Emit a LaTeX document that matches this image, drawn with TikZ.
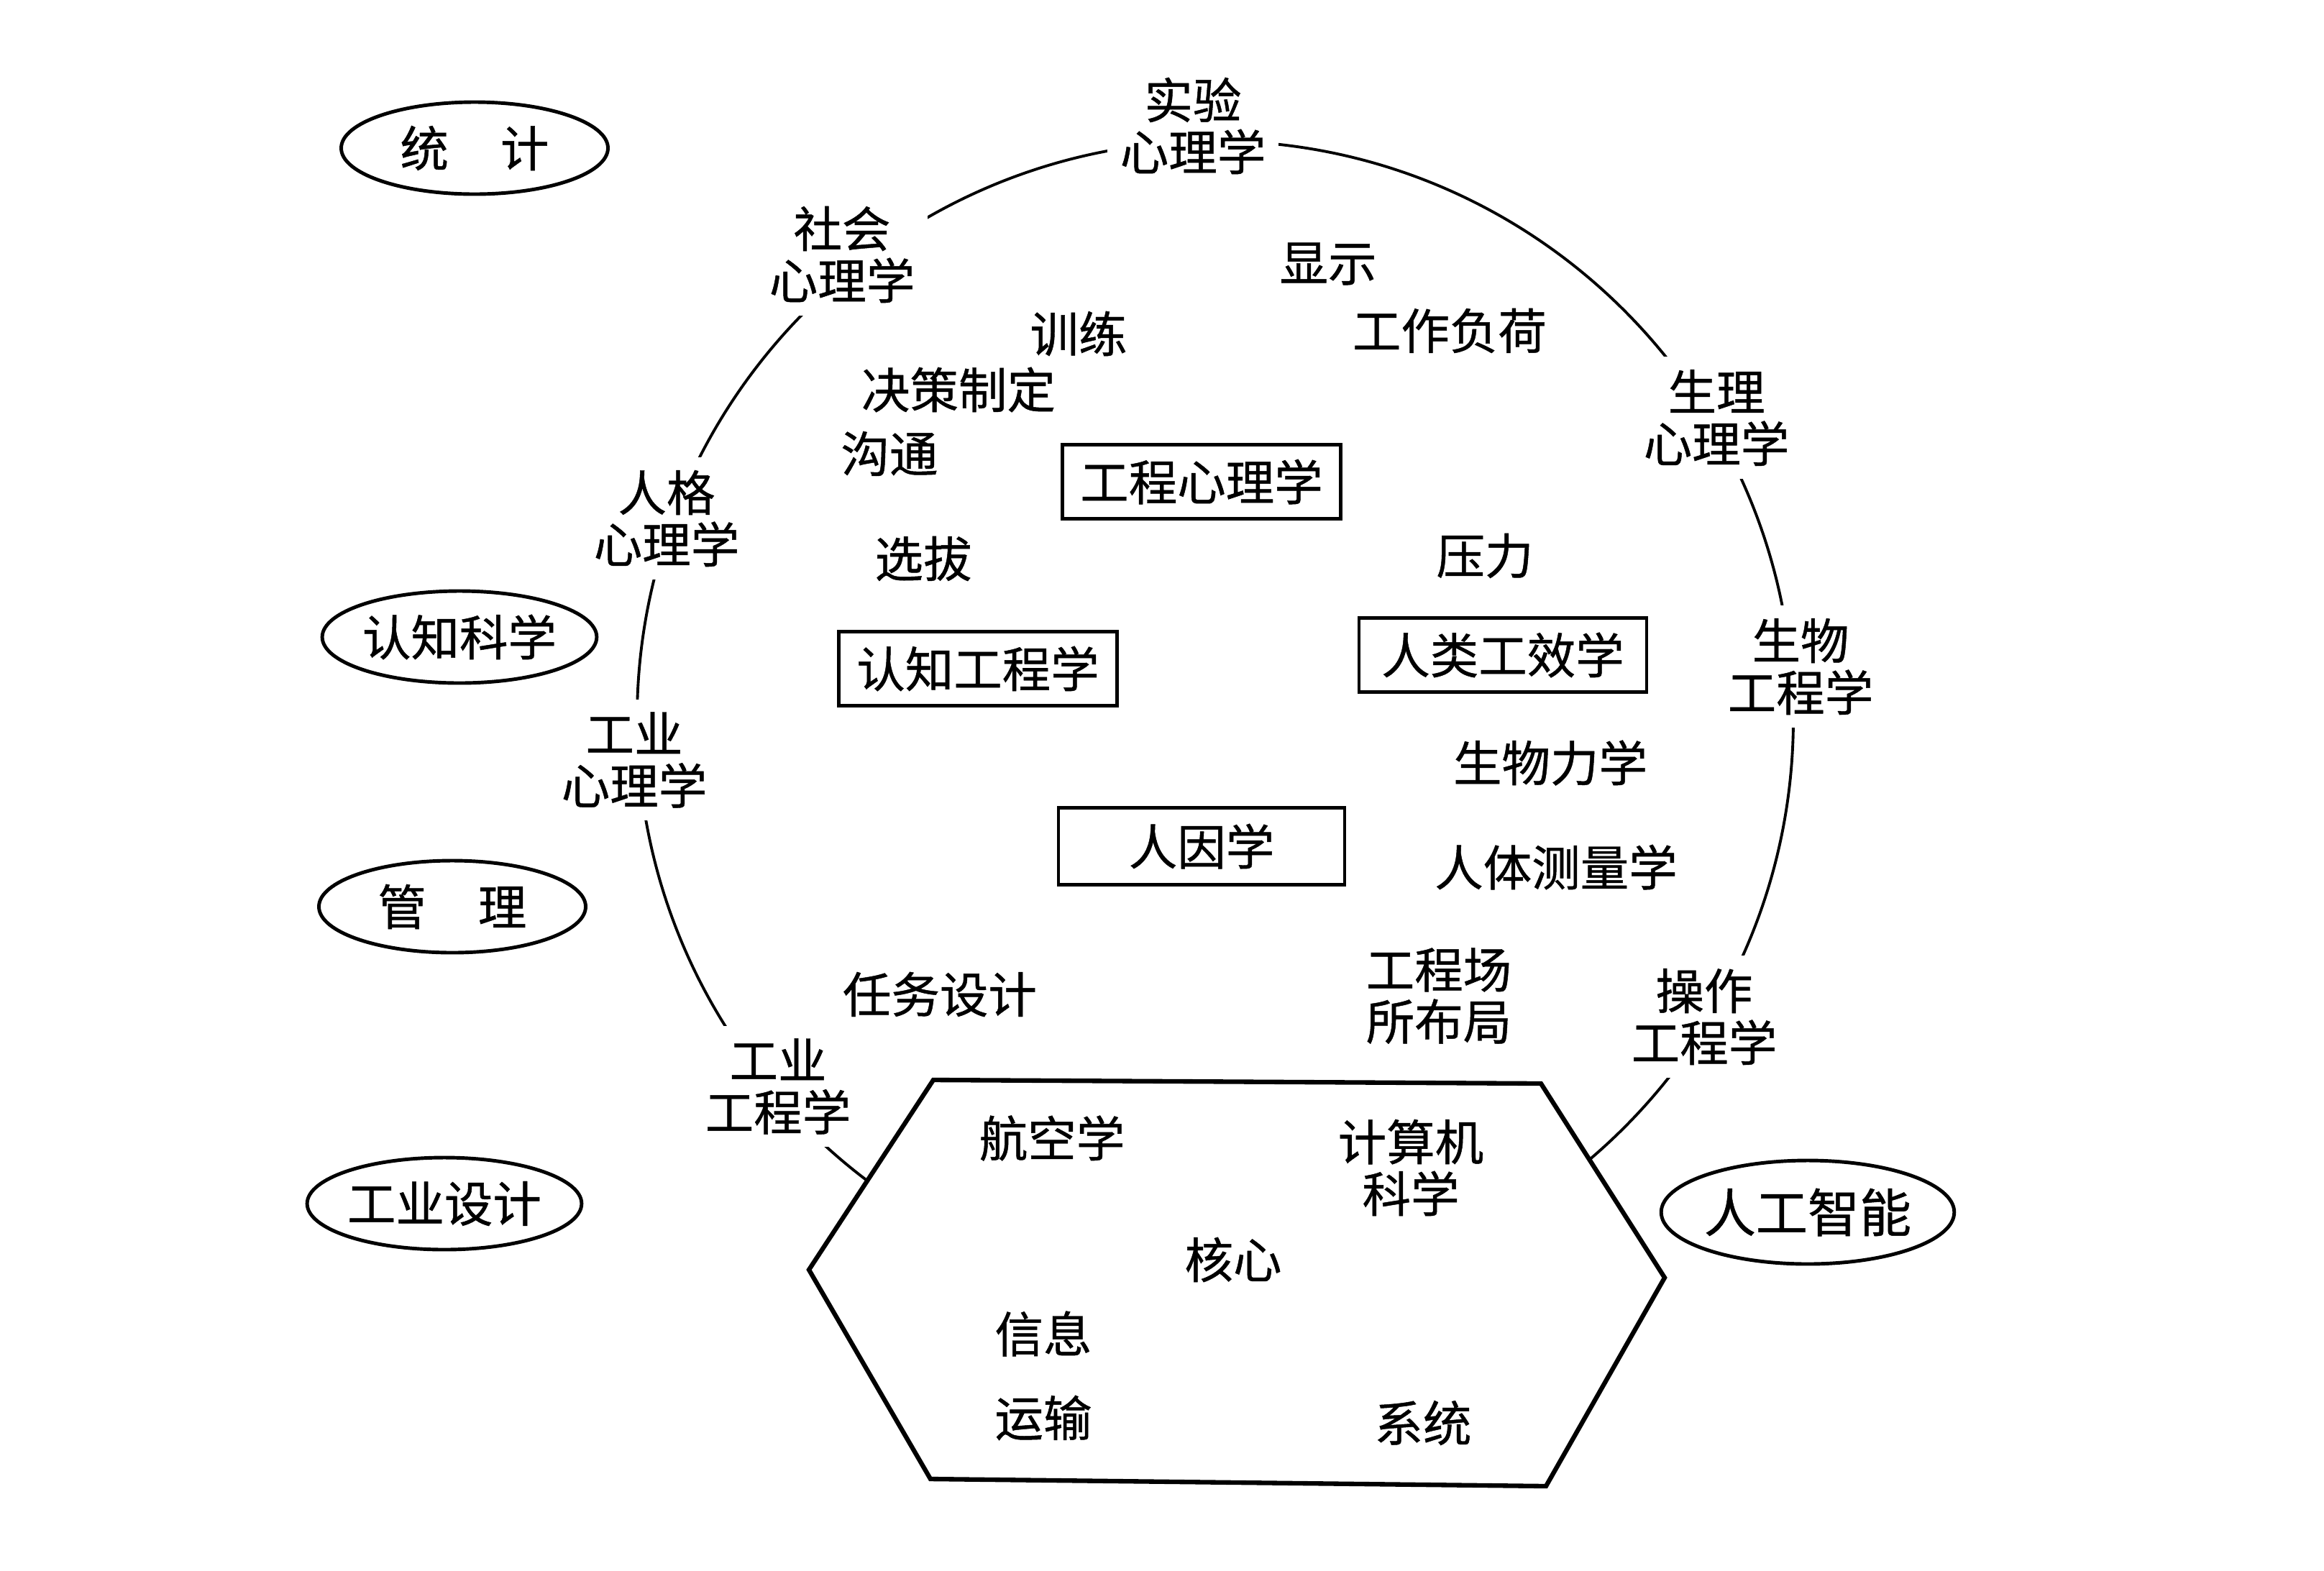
\documentclass[tikz,border=0pt]{standalone}
\usepackage{fontspec}
\newfontfamily\cjk[FakeBold=0.7]{Noto Sans CJK SC}
\usetikzlibrary{shapes.geometric}

\begin{document}
\begin{tikzpicture}[
	every node/.style={font=\cjk\fontsize{19.2}{20.5}\selectfont, align=center},
	ringlabel/.style={fill=white, inner sep=5pt},
	fieldoval/.style={draw, ellipse, line width=1.4pt, minimum width=3.71cm, minimum height=1.28cm, inner sep=0pt},
	discbox/.style={draw, rectangle, line width=1.4pt, minimum width=3.87cm, minimum height=1.03cm, inner sep=0pt}]

	\useasboundingbox[fill=white] (0,0) rectangle (32.32,-21.84);

	\draw[line width=1.1pt] (16.9,-10) circle (8.04);

	% core
	\draw[line width=1.8pt, fill=white] (12.98,-15.02) -- (21.43,-15.07) -- (23.15,-17.77) -- (21.50,-20.67) -- (12.94,-20.57) -- (11.25,-17.66) -- cycle;

	\node (aero) at (14.63,-15.83) {航空学};

	\node (comp) at (19.62,-16.24) {计算机\\科学};

	\node (hexin) at (17.15,-17.52) {核心};

	\node (info) at (14.51,-18.55) {信息};

	\node (trans) at (14.51,-19.72) {运输};

	\node (sys) at (19.79,-19.79) {系统};

	% disciplines on the ring
	\node[ringlabel] (exppsy) at (16.59,-1.75) {实验\\心理学};

	\node[ringlabel] (socpsy) at (11.71,-3.54) {社会\\心理学};

	\node[ringlabel] (perpsy) at (9.27,-7.21) {人格\\心理学};

	\node[ringlabel] (indpsy) at (8.82,-10.57) {工业\\心理学};

	\node[ringlabel] (indeng) at (10.82,-15.11) {工业\\工程学};

	\node[ringlabel] (phypsy) at (23.87,-5.81) {生理\\心理学};

	\node[ringlabel] (bioeng) at (25.04,-9.27) {生物\\工程学};

	\node[ringlabel] (openg) at (23.70,-14.14) {操作\\工程学};

	% outside fields
	\node[fieldoval] (stat) at (6.60,-2.06) {统\hspace{0.72cm}计};

	\node[fieldoval] (cogsci) at (6.39,-8.86) {认知科学};

	\node[fieldoval] (mgmt) at (6.29,-12.61) {管\hspace{0.72cm}理};

	\node[fieldoval] (inddes) at (6.18,-16.74) {工业设计};

	\node[fieldoval, minimum width=3.83cm, minimum height=1.44cm, font=\cjk\fontsize{20.5}{22}\selectfont] (ai) at (25.14,-16.86) {人工智能};

	% boxes
	\node[discbox] (engpsy) at (16.71,-6.70) {工程心理学};

	\node[discbox] (cogeng) at (13.60,-9.30) {认知工程学};

	\node[discbox, minimum width=4.0cm] (ergo) at (20.90,-9.11) {人类工效学};

	\node[discbox, minimum width=3.98cm, minimum height=1.07cm] (hf) at (16.71,-11.77) {人因学};

	% topics
	\node (disp) at (18.47,-3.67) {显示};

	\node (train) at (15.00,-4.64) {训练};

	\node (load) at (20.16,-4.60) {工作负荷};

	\node (decide) at (13.33,-5.42) {决策制定};

	\node (comm) at (12.37,-6.31) {沟通};

	\node (select) at (12.84,-7.77) {选拔};

	\node (stress) at (20.65,-7.73) {压力};

	\node (biomech) at (21.56,-10.61) {生物力学};

	\node (anthro) at (21.64,-12.06) {人体测量学};

	\node (task) at (13.07,-13.83) {任务设计};

	\node (layout) at (20.01,-13.85) {工程场\\所布局};

\end{tikzpicture}
\end{document}
